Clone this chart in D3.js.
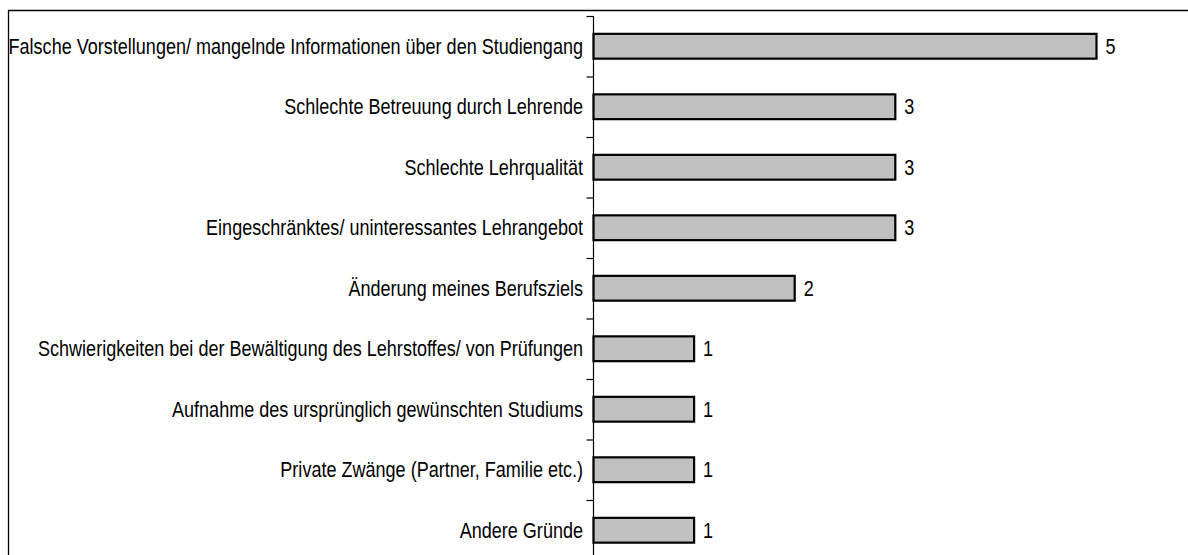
<!DOCTYPE html>
<html><head><meta charset="utf-8">
<script src="https://cdn.jsdelivr.net/npm/d3@7"></script>
<style>
html,body{margin:0;padding:0;background:#fff;}
svg{display:block;}
text{font-family:"Liberation Sans",Arial,sans-serif;fill:#000;}
</style></head>
<body>
<svg id="chart" width="1188" height="555"></svg>
<script>
const categories = [
  "Falsche Vorstellungen/ mangelnde Informationen über den Studiengang",
  "Schlechte Betreuung durch Lehrende",
  "Schlechte Lehrqualität",
  "Eingeschränktes/ uninteressantes Lehrangebot",
  "Änderung meines Berufsziels",
  "Schwierigkeiten bei der Bewältigung des Lehrstoffes/ von Prüfungen",
  "Aufnahme des ursprünglich gewünschten Studiums",
  "Private Zwänge (Partner, Familie etc.)",
  "Andere Gründe"
];
const values = [5, 3, 3, 3, 2, 1, 1, 1, 1];

const svg = d3.select("#chart");
const axisX = 593.5;
const plotTop = 16, step = 60.5;
const condense = 0.82, fontSize = 22;

const x = d3.scaleLinear().domain([0, 5]).range([axisX, axisX + 503]);
const y = d3.scaleBand().domain(categories).range([plotTop, plotTop + step * categories.length]).paddingInner(0.59).paddingOuter(0.295);

// frame
svg.append("path").attr("d", "M8.5,555 V10.5 H1188").attr("fill", "none").attr("stroke", "#000").attr("stroke-width", 1.3);

// bars
svg.selectAll("rect.bar").data(values).enter().append("rect")
  .attr("x", x(0))
  .attr("y", (d, i) => y(categories[i]))
  .attr("width", d => x(d) - x(0))
  .attr("height", y.bandwidth())
  .attr("fill", "#c0c0c0")
  .attr("stroke", "#000")
  .attr("stroke-width", 2.2);

// axis line and ticks at band boundaries
const boundaries = d3.range(categories.length + 1).map(i => plotTop + i * step);
svg.append("line").attr("x1", axisX).attr("x2", axisX).attr("y1", plotTop).attr("y2", 555)
  .attr("stroke", "#000").attr("stroke-width", 1.2);
svg.selectAll("line.tick").data(boundaries).enter().append("line")
  .attr("x1", axisX - 7).attr("x2", axisX).attr("y1", d => d + 0.5).attr("y2", d => d + 0.5)
  .attr("stroke", "#000").attr("stroke-width", 1.2);

// category labels (condensed to mimic a narrow face)
svg.selectAll("text.cat").data(categories).enter().append("text")
  .attr("transform", d => `translate(583,${y(d) + y.bandwidth() / 2}) scale(${condense},1)`)
  .attr("dy", "0.35em")
  .attr("text-anchor", "end")
  .attr("font-size", fontSize)
  .text(d => d);

// value labels
svg.selectAll("text.val").data(values).enter().append("text")
  .attr("transform", (d, i) => `translate(${x(d) + 9},${y(categories[i]) + y.bandwidth() / 2}) scale(${condense},1)`)
  .attr("dy", "0.35em")
  .attr("font-size", fontSize)
  .text(d => d);
</script>
</body></html>
